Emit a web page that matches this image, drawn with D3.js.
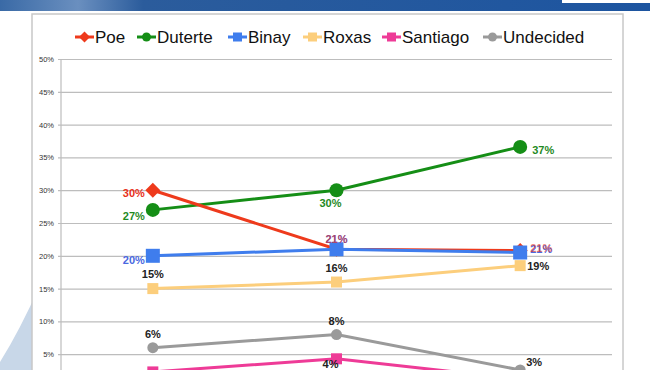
<!DOCTYPE html>
<html>
<head>
<meta charset="utf-8">
<script src="https://cdn.jsdelivr.net/npm/d3@7"></script>
<style>
  body { margin: 0; background: #fff; }
  svg { display: block; font-family: "Liberation Sans", Arial, sans-serif; }
</style>
</head>
<body>
<script>
// poll rounds (not labelled on the slide)
var rounds = ["Round 1", "Round 2", "Round 3"];
var candidates = ["Poe", "Duterte", "Binay", "Roxas", "Santiago", "Undecided"];
// percentage values
var poe = [30, 21, 20.8];
var duterte = [27, 30, 36.6];
var binay = [20, 21, 20.5];
var roxas = [15, 16, 18.5];
var santiago = [2.3, 4.3, 1.2];
var undecided = [6, 8, 2.6];
var yTicks = [5, 10, 15, 20, 25, 30, 35, 40, 45, 50];

var values = [poe, duterte, binay, roxas, santiago, undecided];

// styling per series
var colors = ["#ee3a1c", "#158e16", "#3f7ded", "#fcce7c", "#ee3b97", "#9a9a9a"];
var labelColors = ["#e8301a", "#1f8a1f", "#4a68e0", "#222", "#222", "#222"];
var shapes = ["diamond", "circle", "square", "square", "square", "circle"];
var sizes = [7.5, 7, 7, 5.5, 5.5, 5.5];
// label placement per point: [dx, dy, anchor], null = no label
var labelPlace = [
    [[-8, 4, "end"], [0, -9, "middle"], [10, -1, "start"]],
    [[-8, 7, "end"], [-6, 14, "middle"], [12, 4, "start"]],
    [[-8, 5, "end"], [0, -9, "middle"], [10, -2, "start"]],
    [[0, -14, "middle"], [0, -13, "middle"], [7, 1, "start"]],
    [null, [-6, 6, "middle"], null],
    [[0, -13, "middle"], [0, -12, "middle"], [6, -7, "start"]]
];

var w = 650, h = 370;
var svg = d3.select("body").append("svg")
    .attr("width", w)
    .attr("height", h);

/**** slide background ****/
var defs = svg.append("defs");
var grad = defs.append("linearGradient").attr("id", "hdr");
grad.append("stop").attr("offset", "0%").attr("stop-color", "#3a6aa6");
grad.append("stop").attr("offset", "12%").attr("stop-color", "#6a8fbf");
grad.append("stop").attr("offset", "22%").attr("stop-color", "#2b5c9c");
grad.append("stop").attr("offset", "100%").attr("stop-color", "#1d55a0");
svg.append("rect")
    .attr("x", 0).attr("y", 0)
    .attr("width", w).attr("height", 11)
    .style("fill", "url(#hdr)");
svg.append("rect")
    .attr("x", 562).attr("y", 0)
    .attr("width", 88).attr("height", 3)
    .style("fill", "#fff");
// light blue swoosh at bottom left
svg.append("path")
    .attr("d", "M0,362 Q20,330 40,285 L40,370 L0,370 Z")
    .style("fill", "#c8d7e8");

/**** chart panel ****/
svg.append("rect")
    .attr("x", 32).attr("y", 14)
    .attr("width", 591).attr("height", 370)
    .style("fill", "#fff")
    .style("stroke", "#c8c8c8")
    .style("stroke-width", 1.5);

/**** scales ****/
var x = d3.scalePoint()
    .domain(rounds)
    .range([61, 612])
    .padding(0.5);
var y = d3.scaleLinear()
    .domain([0, 50])
    .range([387, 59]);

// gridlines and tick labels
var yAxis = d3.axisLeft(y)
    .tickValues(yTicks)
    .tickSize(-551)
    .tickPadding(7)
    .tickFormat(function(d){ return d + "%"; });
var axis = svg.append("g")
    .attr("class", "axis")
    .attr("transform", "translate(61,0)")
    .call(yAxis);
axis.select(".domain").remove();
axis.selectAll(".tick line")
    .attr("x1", -3)
    .style("stroke", "#bdbdbd")
    .style("stroke-width", 1.2);
axis.selectAll(".tick text")
    .style("font-size", "7.5px")
    .style("fill", "#333");
// vertical axis line
svg.append("line")
    .attr("x1", 61).attr("x2", 61)
    .attr("y1", 59).attr("y2", h)
    .style("stroke", "#bdbdbd")
    .style("stroke-width", 1.2);

function marker(sel, shape, s){
    if (shape === "circle") {
        sel.append("circle").attr("r", s);
    } else if (shape === "square") {
        sel.append("rect").attr("x", -s).attr("y", -s).attr("width", 2 * s).attr("height", 2 * s);
    } else {
        sel.append("path").attr("d", "M0," + (-s) + "L" + s + ",0L0," + s + "L" + (-s) + ",0Z");
    }
}

/**** series ****/
var line = d3.line()
    .x(function(d, i){ return x(rounds[i]); })
    .y(function(d){ return y(d); });

var drawOrder = [4, 5, 3, 1, 0, 2];
drawOrder.forEach(function(k){
    var g = svg.append("g").attr("class", "series");
    g.append("path")
        .datum(values[k])
        .attr("d", line)
        .style("fill", "none")
        .style("stroke", colors[k])
        .style("stroke-width", 3);
    values[k].forEach(function(v, i){
        var m = g.append("g")
            .attr("transform", "translate(" + x(rounds[i]) + "," + y(v) + ")")
            .style("fill", colors[k]);
        marker(m, shapes[k], sizes[k]);
    });
});

// data labels (Binay first so the red Poe labels sit on top, as on the slide)
[2, 0, 1, 3, 4, 5].forEach(function(k){
    values[k].forEach(function(v, i){
        var p = labelPlace[k][i];
        if (!p) return;
        svg.append("text")
            .attr("x", x(rounds[i]) + p[0])
            .attr("y", y(v) + p[1])
            .attr("text-anchor", p[2])
            .attr("dominant-baseline", "middle")
            .style("font-size", "11px")
            .style("font-weight", "bold")
            .style("fill", labelColors[k])
            .style("fill-opacity", k === 0 && i > 0 ? 0.6 : 1)
            .text(Math.round(v) + "%");
    });
});

/**** legend ****/
var legendX = [75, 137, 228, 303, 382, 483];
candidates.forEach(function(name, k){
    var lg = svg.append("g")
        .attr("transform", "translate(" + legendX[k] + ",37)");
    lg.append("line")
        .attr("x1", 0).attr("x2", 19)
        .style("stroke", colors[k])
        .style("stroke-width", 3);
    var m = lg.append("g")
        .attr("transform", "translate(9.5,0)")
        .style("fill", colors[k]);
    marker(m, shapes[k], shapes[k] === "diamond" ? 5.5 : 4.5);
    lg.append("text")
        .attr("x", 20)
        .attr("y", 0)
        .attr("dominant-baseline", "central")
        .style("font-size", "17px")
        .style("fill", "#111")
        .text(name);
});
</script>
</body>
</html>
